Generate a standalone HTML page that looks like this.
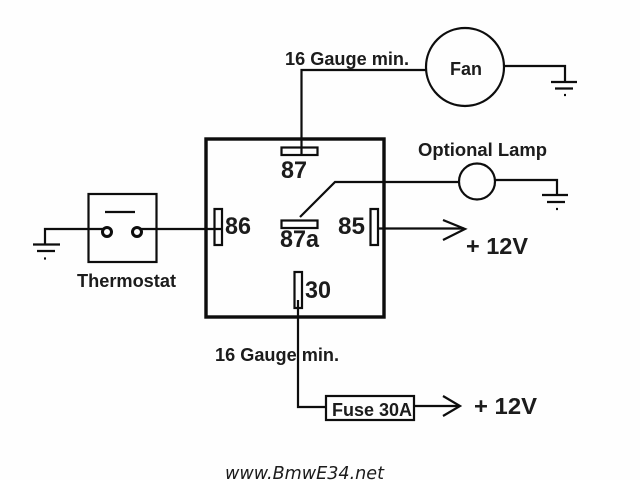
<!DOCTYPE html>
<html>
<head>
<meta charset="utf-8">
<style>
html,body{margin:0;padding:0;background:#fff;width:640px;height:480px;overflow:hidden}
svg{display:block}
text{font-family:"Liberation Sans",sans-serif;font-weight:bold;fill:#1a1a1a}
</style>
</head>
<body>
<svg width="640" height="480" viewBox="0 0 640 480" xmlns="http://www.w3.org/2000/svg">
<defs><filter id="b" filterUnits="userSpaceOnUse" x="0" y="0" width="640" height="480"><feGaussianBlur stdDeviation="0.35"/></filter></defs>
<rect width="640" height="480" fill="#fefefe"/>
<g filter="url(#b)">
<g fill="none" stroke="#0c0c0c" stroke-width="2.200">
  <!-- relay box -->
  <rect x="206" y="139" width="178" height="178" stroke-width="3.400"/>
  <!-- pins -->
  <rect x="281.500" y="147.500" width="36" height="7.500"/>
  <rect x="281.500" y="220.500" width="36" height="7.500"/>
  <rect x="214.500" y="209" width="7.500" height="36"/>
  <rect x="370.500" y="209" width="7.500" height="36"/>
  <rect x="294.500" y="272" width="7.500" height="36"/>
  <!-- fan -->
  <circle cx="465" cy="67" r="39"/>
  <path d="M301.500 155V70H426"/>
  <path d="M504 66H565V82"/>
  <path d="M551 82H577M555 88.500H573"/>
  <path d="M564 95H566"/>
  <!-- lamp -->
  <circle cx="477" cy="181.500" r="18"/>
  <path d="M459 182H335L300 217"/>
  <path d="M495 180H557V195"/>
  <path d="M542 195H568M547 202H565"/>
  <path d="M556 209H558"/>
  <!-- thermostat -->
  <rect x="88.500" y="194" width="68" height="68"/>
  <path d="M105 212H135"/>
  <circle cx="107" cy="232" r="4.500" stroke-width="3"/>
  <circle cx="137" cy="232" r="4.500" stroke-width="3"/>
  <path d="M103 229H45V244"/>
  <path d="M33 244.500H60M37 251H55"/>
  <path d="M44 258.500H46"/>
  <path d="M141 229H222"/>
  <!-- 85 -->
  <path d="M378 228.500H464"/>
  <path d="M443 220L465 229L443 240"/>
  <!-- 30 -->
  <path d="M298 300V407H326"/>
  <rect x="326" y="396" width="88" height="24"/>
  <path d="M414 406H459"/>
  <path d="M443 396L460 406L443 416"/>
</g>

<text x="285" y="65" font-size="18" textLength="124" lengthAdjust="spacingAndGlyphs">16 Gauge min.</text>
<text x="215" y="361" font-size="18" textLength="124" lengthAdjust="spacingAndGlyphs">16 Gauge min.</text>
<text x="450" y="75" font-size="18" textLength="32" lengthAdjust="spacingAndGlyphs">Fan</text>
<text x="418" y="156" font-size="18" textLength="129" lengthAdjust="spacingAndGlyphs">Optional Lamp</text>
<text x="77" y="287" font-size="18" textLength="99" lengthAdjust="spacingAndGlyphs">Thermostat</text>
<text x="281" y="178" font-size="24" textLength="26" lengthAdjust="spacingAndGlyphs">87</text>
<text x="225" y="234" font-size="24" textLength="26" lengthAdjust="spacingAndGlyphs">86</text>
<text x="280" y="247" font-size="24" textLength="39" lengthAdjust="spacingAndGlyphs">87a</text>
<text x="338" y="234" font-size="24" textLength="27" lengthAdjust="spacingAndGlyphs">85</text>
<text x="305" y="298" font-size="24" textLength="26" lengthAdjust="spacingAndGlyphs">30</text>
<text x="466" y="254" font-size="23.500" textLength="62" lengthAdjust="spacingAndGlyphs">+ 12V</text>
<text x="474" y="414" font-size="23.500" textLength="63" lengthAdjust="spacingAndGlyphs">+ 12V</text>
<text x="332" y="416" font-size="18" textLength="80" lengthAdjust="spacingAndGlyphs">Fuse 30A</text>
<text x="225" y="479" font-size="17.400" font-style="italic" style="font-family:'DejaVu Sans',sans-serif;font-weight:normal" textLength="159" lengthAdjust="spacingAndGlyphs">www.BmwE34.net</text>
</g>
</svg>
</body>
</html>
